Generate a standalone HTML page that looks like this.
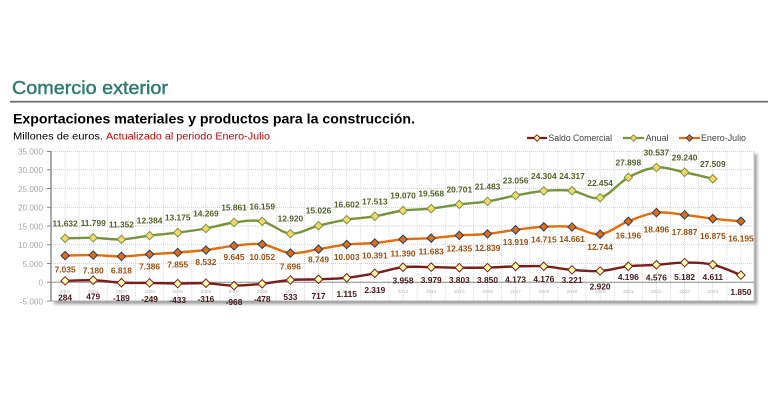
<!DOCTYPE html>
<html><head><meta charset="utf-8"><style>
html,body{margin:0;padding:0;background:#fff;}
svg{display:block;}
text{font-family:"Liberation Sans",sans-serif;}
.g{fill:#4f6228;font-weight:bold;font-size:8.4px;text-anchor:middle;}
.o{fill:#9c4f0e;font-weight:bold;font-size:8.4px;text-anchor:middle;}
.s{fill:#4a1818;font-weight:bold;font-size:8.4px;text-anchor:middle;}
.y{fill:#a6a6a6;font-size:8.2px;text-anchor:end;}
.yr{fill:#b4b4b4;font-size:4.8px;text-anchor:middle;}
.lg{fill:#404040;font-size:9px;}
</style></head><body>
<svg width="770" height="400" viewBox="0 0 770 400" xmlns="http://www.w3.org/2000/svg">
<defs>
<filter id="sh" x="-5%" y="-5%" width="110%" height="120%"><feGaussianBlur stdDeviation="1.6"/></filter>
<path id="dm" d="M0,-4.2L4.2,0L0,4.2L-4.2,0Z"/>
<path id="dl" d="M0,-3.2L3.2,0L0,3.2L-3.2,0Z"/>
</defs>
<rect width="770" height="400" fill="#fff"/>
<!-- Titles -->
<text x="12" y="94" font-size="18.5" fill="#2d7a70" stroke="#2d7a70" stroke-width="0.45" textLength="156" lengthAdjust="spacingAndGlyphs">Comercio exterior</text>
<rect x="10" y="100.8" width="758" height="1.8" fill="#707070"/>
<text x="13" y="123.3" font-size="14" font-weight="bold" fill="#000" textLength="402" lengthAdjust="spacingAndGlyphs">Exportaciones materiales y productos para la construcción.</text>
<text x="13" y="139.3" font-size="10" fill="#000" textLength="90" lengthAdjust="spacingAndGlyphs">Millones de euros.</text>
<text x="106" y="139.3" font-size="10" fill="#c00000" textLength="164" lengthAdjust="spacingAndGlyphs">Actualizado al periodo Enero-Julio</text>
<!-- Legend -->
<line x1="527" y1="138" x2="547" y2="138" stroke="#7a1c1c" stroke-width="2.2"/>
<use href="#dl" x="537" y="138" fill="#ffffa8" stroke="#7a1c1c" stroke-width="1"/>
<text class="lg" x="548.5" y="141.2" textLength="63.5" lengthAdjust="spacingAndGlyphs">Saldo Comercial</text>
<line x1="623" y1="138" x2="644" y2="138" stroke="#77933c" stroke-width="2.2"/>
<use href="#dl" x="633.5" y="138" fill="#f5d66c" stroke="#77933c" stroke-width="1"/>
<text class="lg" x="645.5" y="141.2" textLength="23" lengthAdjust="spacingAndGlyphs">Anual</text>
<line x1="679" y1="138" x2="700" y2="138" stroke="#e46c0a" stroke-width="2.2"/>
<use href="#dl" x="689.5" y="138" fill="#e46c0a" stroke="#1f3f6f" stroke-width="1"/>
<text class="lg" x="701" y="141.2" textLength="45" lengthAdjust="spacingAndGlyphs">Enero-Julio</text>
<!-- Plot area -->
<rect x="54" y="154" width="703" height="150" fill="#9a9a9a" filter="url(#sh)"/>
<rect x="51" y="151" width="703" height="150" fill="#fff"/>
<path d="M51,151.5H754M51,169.75H754M51,188.5H754M51,207.25H754M51,226H754M51,244.75H754M51,263.5H754" stroke="#c4c4c4" stroke-width="0.8" stroke-dasharray="1,1" fill="none"/>
<path d="M65.08,151V301M79.16,151V301M93.24,151V301M107.32,151V301M121.4,151V301M135.48,151V301M149.56,151V301M163.64,151V301M177.72,151V301M191.8,151V301M205.88,151V301M219.96,151V301M234.04,151V301M248.12,151V301M262.2,151V301M276.28,151V301M290.36,151V301M304.44,151V301M318.52,151V301M332.6,151V301M346.68,151V301M360.76,151V301M374.84,151V301M388.92,151V301M403,151V301M417.08,151V301M431.16,151V301M445.24,151V301M459.32,151V301M473.4,151V301M487.48,151V301M501.56,151V301M515.64,151V301M529.72,151V301M543.8,151V301M557.88,151V301M571.96,151V301M586.04,151V301M600.12,151V301M614.2,151V301M628.28,151V301M642.36,151V301M656.44,151V301M670.52,151V301M684.6,151V301M698.68,151V301M712.76,151V301M726.84,151V301M740.92,151V301" stroke="#cfcfcf" stroke-width="0.8" stroke-dasharray="1,1" fill="none"/>
<line x1="754" y1="151" x2="754" y2="301" stroke="#d0d0d0" stroke-width="1"/>
<line x1="51" y1="301" x2="754" y2="301" stroke="#b0b0b0" stroke-width="1"/>
<line x1="51" y1="282.25" x2="754" y2="282.25" stroke="#8c8c8c" stroke-width="1"/>
<line x1="51" y1="151" x2="51" y2="301" stroke="#868686" stroke-width="1.4"/>
<path d="M47,151.5H51M47,169.75H51M47,188.5H51M47,207.25H51M47,226H51M47,244.75H51M47,263.5H51M47,282.25H51M47,301H51" stroke="#868686" stroke-width="1"/>
<!-- Y axis labels -->
<text class="y" x="43" y="154.5">35.000</text>
<text class="y" x="43" y="173">30.000</text>
<text class="y" x="43" y="191.8">25.000</text>
<text class="y" x="43" y="210.5">20.000</text>
<text class="y" x="43" y="229.3">15.000</text>
<text class="y" x="43" y="248">10.000</text>
<text class="y" x="43" y="266.8">5.000</text>
<text class="y" x="43" y="285.5">0</text>
<text class="y" x="43" y="304.3">-5.000</text>
<!-- Year labels -->
<text class="yr" x="65.1" y="293">2001</text><text class="yr" x="93.2" y="293">2002</text><text class="yr" x="121.4" y="293">2003</text><text class="yr" x="149.6" y="293">2004</text><text class="yr" x="177.7" y="293">2005</text><text class="yr" x="205.9" y="293">2006</text><text class="yr" x="234" y="293">2007</text><text class="yr" x="262.2" y="293">2008</text><text class="yr" x="290.4" y="293">2009</text><text class="yr" x="318.5" y="293">2010</text><text class="yr" x="346.7" y="293">2011</text><text class="yr" x="374.8" y="293">2012</text><text class="yr" x="403" y="293">2013</text><text class="yr" x="431.2" y="293">2014</text><text class="yr" x="459.3" y="293">2015</text><text class="yr" x="487.5" y="293">2016</text><text class="yr" x="515.6" y="293">2017</text><text class="yr" x="543.8" y="293">2018</text><text class="yr" x="572" y="293">2019</text><text class="yr" x="600.1" y="293">2020</text><text class="yr" x="628.3" y="293">2021</text><text class="yr" x="656.4" y="293">2022</text><text class="yr" x="684.6" y="293">2023</text><text class="yr" x="712.8" y="293">2024</text>
<!-- Series lines -->
<path fill="none" stroke="#77933c" stroke-width="2.4" d="M65.1,238.4 C69.8,238.3 83.8,237.63 93.2,237.8 S112.0,239.77 121.4,239.4 S140.2,236.73 149.6,235.6 S168.3,233.78 177.7,232.6 S196.5,230.18 205.9,228.5 S224.6,223.68 234.0,222.5 S252.8,219.55 262.2,221.4 S281.0,232.88 290.4,233.6 S309.1,228.02 318.5,225.7 S337.3,221.27 346.7,219.7 S365.4,217.83 374.8,216.3 S393.6,211.78 403.0,210.5 S421.8,209.62 431.2,208.6 S449.9,205.6 459.3,204.4 S478.1,202.88 487.5,201.4 S506.2,197.25 515.6,195.5 S534.4,191.68 543.8,190.9 S562.6,189.65 572.0,190.8 S590.7,200.03 600.1,197.8 S618.9,182.45 628.3,177.4 S647.0,168.35 656.4,167.5 S675.2,170.42 684.6,172.3 S708.1,177.72 712.8,178.8"/>
<path fill="none" stroke="#e46c0a" stroke-width="2.4" d="M65.1,255.6 C69.8,255.52 83.8,254.97 93.2,255.1 S112.0,256.53 121.4,256.4 S140.2,254.95 149.6,254.3 S168.3,253.22 177.7,252.5 S196.5,251.12 205.9,250.0 S224.6,246.75 234.0,245.8 S252.8,243.08 262.2,244.3 S281.0,252.28 290.4,253.1 S309.1,250.63 318.5,249.2 S337.3,245.53 346.7,244.5 S365.4,243.87 374.8,243.0 S393.6,240.1 403.0,239.3 S421.8,238.85 431.2,238.2 S449.9,236.12 459.3,235.4 S478.1,234.83 487.5,233.9 S506.2,230.98 515.6,229.8 S534.4,227.27 543.8,226.8 S562.6,225.77 572.0,227.0 S590.7,235.15 600.1,234.2 S618.9,224.9 628.3,221.3 S647.0,213.67 656.4,212.6 S675.2,213.88 684.6,214.9 S703.4,217.63 712.8,218.7 S736.2,220.87 740.9,221.3"/>
<path fill="none" stroke="#7a1c1c" stroke-width="2.4" d="M65.1,280.9 C69.8,280.78 83.8,279.9 93.2,280.2 S112.0,282.25 121.4,282.7 S140.2,282.75 149.6,282.9 S168.3,283.55 177.7,283.6 S196.5,282.87 205.9,283.2 S224.6,285.5 234.0,285.6 S252.8,284.73 262.2,283.8 S281.0,280.75 290.4,280.0 S309.1,279.67 318.5,279.3 S337.3,278.8 346.7,277.8 S365.4,275.07 374.8,273.3 S393.6,268.23 403.0,267.2 S421.8,267.02 431.2,267.1 S449.9,267.62 459.3,267.7 S478.1,267.82 487.5,267.6 S506.2,266.62 515.6,266.4 S534.4,265.72 543.8,266.3 S562.6,269.12 572.0,269.9 S590.7,271.6 600.1,271.0 S618.9,267.33 628.3,266.3 S647.0,265.42 656.4,264.8 S675.2,262.62 684.6,262.6 S703.4,262.62 712.8,264.7 S736.2,273.37 740.9,275.1"/>
<!-- Markers Anual -->
<g fill="#f5d66c" stroke="#77933c" stroke-width="1">
<use href="#dm" x="65.1" y="238.4"/><use href="#dm" x="93.2" y="237.8"/><use href="#dm" x="121.4" y="239.4"/><use href="#dm" x="149.6" y="235.6"/><use href="#dm" x="177.7" y="232.6"/><use href="#dm" x="205.9" y="228.5"/><use href="#dm" x="234" y="222.5"/><use href="#dm" x="262.2" y="221.4"/><use href="#dm" x="290.4" y="233.6"/><use href="#dm" x="318.5" y="225.7"/><use href="#dm" x="346.7" y="219.7"/><use href="#dm" x="374.8" y="216.3"/><use href="#dm" x="403" y="210.5"/><use href="#dm" x="431.2" y="208.6"/><use href="#dm" x="459.3" y="204.4"/><use href="#dm" x="487.5" y="201.4"/><use href="#dm" x="515.6" y="195.5"/><use href="#dm" x="543.8" y="190.9"/><use href="#dm" x="572" y="190.8"/><use href="#dm" x="600.1" y="197.8"/><use href="#dm" x="628.3" y="177.4"/><use href="#dm" x="656.4" y="167.5"/><use href="#dm" x="684.6" y="172.3"/><use href="#dm" x="712.8" y="178.8"/>
</g>
<!-- Markers Enero-Julio -->
<g fill="#e46c0a" stroke="#1f3f6f" stroke-width="1">
<use href="#dm" x="65.1" y="255.6"/><use href="#dm" x="93.2" y="255.1"/><use href="#dm" x="121.4" y="256.4"/><use href="#dm" x="149.6" y="254.3"/><use href="#dm" x="177.7" y="252.5"/><use href="#dm" x="205.9" y="250"/><use href="#dm" x="234" y="245.8"/><use href="#dm" x="262.2" y="244.3"/><use href="#dm" x="290.4" y="253.1"/><use href="#dm" x="318.5" y="249.2"/><use href="#dm" x="346.7" y="244.5"/><use href="#dm" x="374.8" y="243"/><use href="#dm" x="403" y="239.3"/><use href="#dm" x="431.2" y="238.2"/><use href="#dm" x="459.3" y="235.4"/><use href="#dm" x="487.5" y="233.9"/><use href="#dm" x="515.6" y="229.8"/><use href="#dm" x="543.8" y="226.8"/><use href="#dm" x="572" y="227"/><use href="#dm" x="600.1" y="234.2"/><use href="#dm" x="628.3" y="221.3"/><use href="#dm" x="656.4" y="212.6"/><use href="#dm" x="684.6" y="214.9"/><use href="#dm" x="712.8" y="218.7"/><use href="#dm" x="740.9" y="221.3"/>
</g>
<!-- Markers Saldo -->
<g fill="#ffffa8" stroke="#7a1c1c" stroke-width="1">
<use href="#dm" x="65.1" y="280.9"/><use href="#dm" x="93.2" y="280.2"/><use href="#dm" x="121.4" y="282.7"/><use href="#dm" x="149.6" y="282.9"/><use href="#dm" x="177.7" y="283.6"/><use href="#dm" x="205.9" y="283.2"/><use href="#dm" x="234" y="285.6"/><use href="#dm" x="262.2" y="283.8"/><use href="#dm" x="290.4" y="280"/><use href="#dm" x="318.5" y="279.3"/><use href="#dm" x="346.7" y="277.8"/><use href="#dm" x="374.8" y="273.3"/><use href="#dm" x="403" y="267.2"/><use href="#dm" x="431.2" y="267.1"/><use href="#dm" x="459.3" y="267.7"/><use href="#dm" x="487.5" y="267.6"/><use href="#dm" x="515.6" y="266.4"/><use href="#dm" x="543.8" y="266.3"/><use href="#dm" x="572" y="269.9"/><use href="#dm" x="600.1" y="271"/><use href="#dm" x="628.3" y="266.3"/><use href="#dm" x="656.4" y="264.8"/><use href="#dm" x="684.6" y="262.6"/><use href="#dm" x="712.8" y="264.7"/><use href="#dm" x="740.9" y="275.1"/>
</g>
<!-- Labels Anual -->
<text class="g" x="65.1" y="226.4">11.632</text><text class="g" x="93.2" y="225.8">11.799</text><text class="g" x="121.4" y="227.4">11.352</text><text class="g" x="149.6" y="223.6">12.384</text><text class="g" x="177.7" y="220.6">13.175</text><text class="g" x="205.9" y="216.5">14.269</text><text class="g" x="234" y="210.5">15.861</text><text class="g" x="262.2" y="209.4">16.159</text><text class="g" x="290.4" y="221.6">12.920</text><text class="g" x="318.5" y="213.7">15.026</text><text class="g" x="346.7" y="207.7">16.602</text><text class="g" x="374.8" y="204.3">17.513</text><text class="g" x="403" y="198.5">19.070</text><text class="g" x="431.2" y="196.6">19.568</text><text class="g" x="459.3" y="192.4">20.701</text><text class="g" x="487.5" y="189.4">21.483</text><text class="g" x="515.6" y="183.5">23.056</text><text class="g" x="543.8" y="178.9">24.304</text><text class="g" x="572" y="178.8">24.317</text><text class="g" x="600.1" y="185.8">22.454</text><text class="g" x="628.3" y="165.4">27.898</text><text class="g" x="656.4" y="155.5">30.537</text><text class="g" x="684.6" y="160.3">29.240</text><text class="g" x="712.8" y="166.8">27.509</text>
<!-- Labels Enero-Julio -->
<text class="o" x="65.1" y="272.3">7.035</text><text class="o" x="93.2" y="273.3">7.180</text><text class="o" x="121.4" y="273.3">6.818</text><text class="o" x="149.6" y="269.3">7.386</text><text class="o" x="177.7" y="267.6">7.855</text><text class="o" x="205.9" y="265">8.532</text><text class="o" x="234" y="260">9.645</text><text class="o" x="262.2" y="260">10.052</text><text class="o" x="290.4" y="269.3">7.696</text><text class="o" x="318.5" y="262.6">8.749</text><text class="o" x="346.7" y="260">10.003</text><text class="o" x="374.8" y="258.3">10.391</text><text class="o" x="403" y="256.6">11.390</text><text class="o" x="431.2" y="254.3">11.683</text><text class="o" x="459.3" y="251.6">12.435</text><text class="o" x="487.5" y="251">12.839</text><text class="o" x="515.6" y="245">13.919</text><text class="o" x="543.8" y="242.6">14.715</text><text class="o" x="572" y="242">14.661</text><text class="o" x="600.1" y="250">12.744</text><text class="o" x="628.3" y="238.3">16.196</text><text class="o" x="656.4" y="232.6">18.496</text><text class="o" x="684.6" y="235">17.887</text><text class="o" x="712.8" y="239">16.875</text><text class="o" x="740.9" y="241.3">16.195</text>
<!-- Labels Saldo -->
<text class="s" x="65.1" y="300.5">284</text><text class="s" x="93.2" y="299.5">479</text><text class="s" x="121.4" y="301">-189</text><text class="s" x="149.6" y="302">-249</text><text class="s" x="177.7" y="303">-433</text><text class="s" x="205.9" y="302">-316</text><text class="s" x="234" y="305">-968</text><text class="s" x="262.2" y="302">-478</text><text class="s" x="290.4" y="300">533</text><text class="s" x="318.5" y="299">717</text><text class="s" x="346.7" y="297">1.115</text><text class="s" x="374.8" y="293">2.319</text><text class="s" x="403" y="283.5">3.958</text><text class="s" x="431.2" y="283">3.979</text><text class="s" x="459.3" y="283">3.803</text><text class="s" x="487.5" y="283">3.850</text><text class="s" x="515.6" y="282.5">4.173</text><text class="s" x="543.8" y="282">4.176</text><text class="s" x="572" y="283">3.221</text><text class="s" x="600.1" y="289.5">2.920</text><text class="s" x="628.3" y="280">4.196</text><text class="s" x="656.4" y="280.5">4.576</text><text class="s" x="684.6" y="280">5.182</text><text class="s" x="712.8" y="280">4.611</text><text class="s" x="740.9" y="295" fill="#222">1.850</text>
</svg>
</body></html>
